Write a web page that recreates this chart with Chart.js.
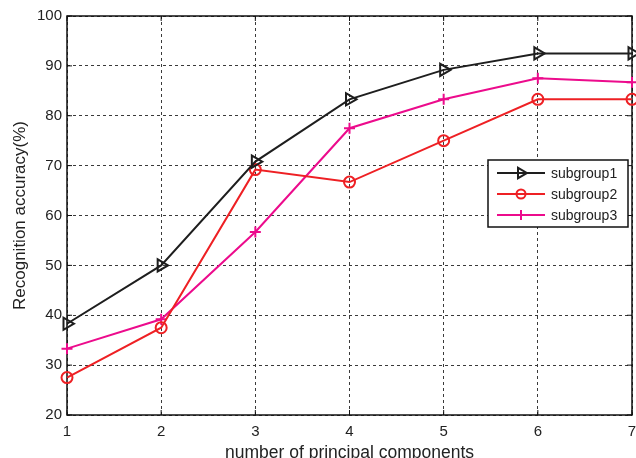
<!DOCTYPE html>
<html>
<head>
<meta charset="utf-8">
<script src="https://cdn.jsdelivr.net/npm/chart.js@4.4.0/dist/chart.umd.min.js"></script>
<style>
html,body{margin:0;padding:0;background:#fff;}
#wrap{width:636px;height:458px;position:relative;}
</style>
</head>
<body>
<div id="wrap"><canvas id="c" width="636" height="458"></canvas></div>
<script>
const components = [1, 2, 3, 4, 5, 6, 7];
const subgroup1 = [38.3, 50.0, 70.8, 83.3, 89.2, 92.5, 92.5];
const subgroup2 = [27.5, 37.5, 69.2, 66.7, 75.0, 83.3, 83.3];
const subgroup3 = [33.3, 39.2, 56.7, 77.5, 83.3, 87.5, 86.7];
const seriesNames = ['subgroup1', 'subgroup2', 'subgroup3'];
const yTicks = [20, 30, 40, 50, 60, 70, 80, 90, 100];
const xTitle = 'number of principal components';
const yTitle = 'Recognition accuracy(%)';

const FONT = 'Arial, "Liberation Sans", Helvetica, sans-serif';
const colors = ['#1e1e1e', '#ee2024', '#ec0b8c'];
const pts = (arr) => arr.map((v, i) => ({x: components[i], y: v}));

function drawMarker(ctx, style, x, y, r, color) {
  ctx.save();
  ctx.strokeStyle = color;
  ctx.lineWidth = 2;
  ctx.beginPath();
  if (style === 'tri') {
    ctx.moveTo(x + r, y);
    ctx.lineTo(x - r * 0.5, y - r * 0.866);
    ctx.lineTo(x - r * 0.5, y + r * 0.866);
    ctx.closePath();
  } else if (style === 'circle') {
    ctx.arc(x, y, r, 0, Math.PI * 2);
  } else {
    ctx.moveTo(x - r, y); ctx.lineTo(x + r, y);
    ctx.moveTo(x, y - r); ctx.lineTo(x, y + r);
  }
  ctx.stroke();
  ctx.restore();
}

const framePlugin = {
  id: 'frame',
  beforeDatasetsDraw(chart) {
    const {ctx, chartArea: a, scales} = chart;
    ctx.save();
    ctx.strokeStyle = '#111';
    ctx.lineWidth = 1.5;
    ctx.strokeRect(a.left, a.top, a.right - a.left, a.bottom - a.top);
    ctx.lineWidth = 1;
    ctx.beginPath();
    yTicks.forEach(v => {
      const y = scales.y.getPixelForValue(v);
      ctx.moveTo(a.left, y); ctx.lineTo(a.left + 5, y);
      ctx.moveTo(a.right, y); ctx.lineTo(a.right - 5, y);
    });
    components.forEach(v => {
      const x = scales.x.getPixelForValue(v);
      ctx.moveTo(x, a.bottom); ctx.lineTo(x, a.bottom - 5);
      ctx.moveTo(x, a.top); ctx.lineTo(x, a.top + 5);
    });
    ctx.stroke();
    ctx.restore();
  },
  afterDatasetsDraw(chart) {
    const {ctx} = chart;
    const bx = 488, by = 160, bw = 140, bh = 67;
    ctx.save();
    ctx.fillStyle = '#fff';
    ctx.fillRect(bx, by, bw, bh);
    ctx.strokeStyle = '#111';
    ctx.lineWidth = 1.5;
    ctx.strokeRect(bx, by, bw, bh);
    const rows = [173, 194, 215];
    const styles = ['tri', 'circle', 'cross'];
    const sizes = [6, 4.5, 5];
    chart.data.datasets.forEach((ds, i) => {
      const y = rows[i];
      ctx.strokeStyle = ds.borderColor;
      ctx.lineWidth = 2;
      ctx.beginPath();
      ctx.moveTo(497, y); ctx.lineTo(545, y);
      ctx.stroke();
      drawMarker(ctx, styles[i], 521, y, sizes[i], ds.borderColor);
      ctx.fillStyle = '#222';
      ctx.font = '14px ' + FONT;
      ctx.textAlign = 'left';
      ctx.textBaseline = 'middle';
      ctx.fillText(ds.label, 551, y + 1);
    });
    ctx.restore();
  }
};

new Chart(document.getElementById('c'), {
  type: 'line',
  data: {
    datasets: [
      {label: seriesNames[0], data: pts(subgroup1), borderColor: colors[0], borderWidth: 2,
       pointStyle: 'triangle', rotation: 90, pointRadius: 7, pointBorderWidth: 2,
       pointBackgroundColor: 'rgba(0,0,0,0)', pointBorderColor: colors[0], clip: false, tension: 0},
      {label: seriesNames[1], data: pts(subgroup2), borderColor: colors[1], borderWidth: 2,
       pointStyle: 'circle', pointRadius: 5.5, pointBorderWidth: 2,
       pointBackgroundColor: 'rgba(0,0,0,0)', pointBorderColor: colors[1], clip: false, tension: 0},
      {label: seriesNames[2], data: pts(subgroup3), borderColor: colors[2], borderWidth: 2,
       pointStyle: 'cross', pointRadius: 5.5, pointBorderWidth: 2,
       pointBackgroundColor: 'rgba(0,0,0,0)', pointBorderColor: colors[2], clip: false, tension: 0}
    ]
  },
  options: {
    responsive: false,
    animation: false,
    devicePixelRatio: 1,
    layout: {autoPadding: false, padding: {left: 0, top: 16, right: 4, bottom: 0}},
    plugins: {legend: {display: false}, tooltip: {enabled: false}},
    scales: {
      x: {
        type: 'linear', min: 1, max: 7,
        afterBuildTicks: (s) => { s.ticks = components.map(v => ({value: v})); },
        afterFit: (s) => { s.height = 43; s.paddingLeft = 0; s.paddingRight = 0; },
        grid: {color: '#3a3a3a', lineWidth: 1, drawTicks: false},
        border: {display: false, dash: [3, 3]},
        ticks: {color: '#222', font: {size: 15, family: FONT}, padding: 8, maxRotation: 0, autoSkip: false},
        title: {display: true, text: xTitle, color: '#222', font: {size: 17.5, family: FONT}, padding: {top: 0, bottom: -5.5}}
      },
      y: {
        type: 'linear', min: 20, max: 100,
        afterBuildTicks: (s) => { s.ticks = yTicks.map(v => ({value: v})); },
        afterFit: (s) => { s.width = 67; s.paddingTop = 0; s.paddingBottom = 0; },
        grid: {color: '#3a3a3a', lineWidth: 1, drawTicks: false},
        border: {display: false, dash: [3, 3]},
        ticks: {color: '#222', font: {size: 15, family: FONT}, padding: 5},
        title: {display: true, text: yTitle, color: '#222', font: {size: 17, family: FONT}, padding: {top: 10, bottom: 0}}
      }
    }
  },
  plugins: [framePlugin]
});
</script>
</body>
</html>
